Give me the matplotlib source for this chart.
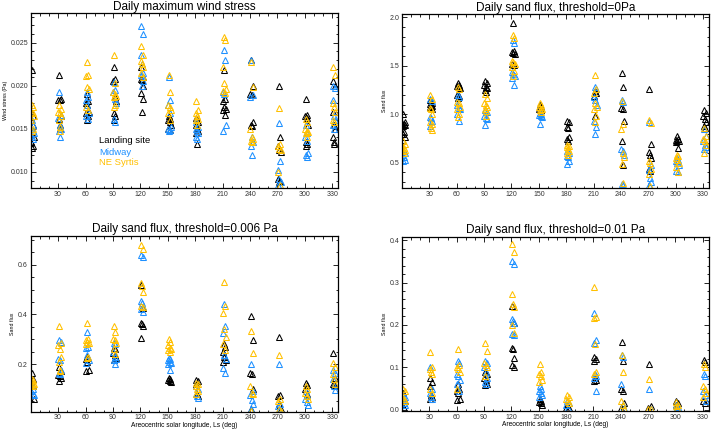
import matplotlib
matplotlib.use('Agg')
import matplotlib.pyplot as plt
from matplotlib.ticker import MultipleLocator

plt.rcParams['font.family'] = ['Liberation Sans', 'DejaVu Sans']

# Ls of each 30-degree sampling window
ls_start = [0, 30, 60, 90, 120, 150, 180, 210, 240, 270, 300, 330]
# Ls offset of each sol inside a window (deg)
sol_offsets = [1.2, 2.8, 0.4, 2.0, 3.4, 0.8, 2.4, 1.6, 3.0, 0.1]
site_names = ['Landing site', 'Midway', 'NE Syrtis']
site_colors = ['black', '#1E90FF', '#FFC000']

# Daily maximum wind stress (Pa)
stress_landing = [
    [0.0218, 0.0165, 0.016, 0.0155, 0.014, 0.0135, 0.013, 0.0128],
    [0.0212, 0.0185, 0.0184, 0.0183, 0.0165, 0.0162, 0.0155, 0.015],
    [0.019, 0.0182, 0.018, 0.0178, 0.017, 0.0168, 0.0165, 0.016],
    [0.0222, 0.0208, 0.0205, 0.0187, 0.0182, 0.0168, 0.0165, 0.016],
    [0.0222, 0.021, 0.0208, 0.0207, 0.02, 0.0192, 0.0185, 0.017],
    [0.0165, 0.0162, 0.016, 0.0158, 0.0155, 0.015, 0.0149],
    [0.0163, 0.0158, 0.0155, 0.015, 0.0147, 0.0145, 0.0133],
    [0.0218, 0.0185, 0.0182, 0.0175, 0.0173, 0.0172, 0.0166],
    [0.023, 0.02, 0.019, 0.0189, 0.0158, 0.0155, 0.0153],
    [0.02, 0.014, 0.013, 0.0125, 0.0123, 0.0092, 0.009, 0.0088],
    [0.0185, 0.0166, 0.0165, 0.0163, 0.0155, 0.0135, 0.0133, 0.013],
    [0.0205, 0.02, 0.017, 0.0155, 0.015, 0.014, 0.0135, 0.0132],
]
stress_midway = [
    [0.016, 0.0155, 0.015, 0.0148, 0.0145, 0.014, 0.0138],
    [0.0193, 0.0166, 0.0163, 0.0155, 0.015, 0.0148, 0.0141],
    [0.0193, 0.0187, 0.0183, 0.0178, 0.0168, 0.0165, 0.0162],
    [0.0204, 0.0195, 0.0193, 0.0185, 0.018, 0.0162, 0.0158],
    [0.0269, 0.026, 0.0236, 0.0225, 0.0215, 0.0213, 0.0205, 0.02],
    [0.021, 0.0183, 0.0178, 0.0168, 0.0152, 0.015, 0.0149, 0.0148],
    [0.0158, 0.0152, 0.015, 0.0148, 0.0145, 0.014, 0.0138],
    [0.0242, 0.023, 0.0193, 0.019, 0.0154, 0.0147],
    [0.023, 0.0189, 0.0187, 0.014, 0.0135, 0.013, 0.012],
    [0.0157, 0.0113, 0.0102, 0.0092, 0.0088, 0.0085],
    [0.0155, 0.0145, 0.014, 0.0136, 0.0122, 0.012, 0.0117],
    [0.02, 0.0197, 0.0183, 0.0165, 0.016, 0.0155, 0.015],
]
stress_syrtis = [
    [0.0178, 0.0175, 0.017, 0.0168, 0.0165, 0.016, 0.015, 0.0148],
    [0.0178, 0.0173, 0.017, 0.0168, 0.0165, 0.016, 0.0152, 0.0148],
    [0.0227, 0.0213, 0.0211, 0.0199, 0.0196, 0.0175, 0.0172],
    [0.0236, 0.0203, 0.0193, 0.019, 0.0188, 0.0187, 0.0178, 0.0175],
    [0.0246, 0.0236, 0.0229, 0.0225, 0.0222, 0.0215, 0.021],
    [0.0213, 0.0193, 0.0178, 0.0175, 0.0172, 0.0168, 0.016],
    [0.0182, 0.0172, 0.0168, 0.0165, 0.0162, 0.016, 0.0155],
    [0.0256, 0.0253, 0.0222, 0.0203, 0.0196, 0.0194, 0.0192],
    [0.0227, 0.0199, 0.015, 0.0141, 0.0138, 0.0136, 0.0135],
    [0.0174, 0.0133, 0.013, 0.0127, 0.0125, 0.01, 0.0085],
    [0.0162, 0.0158, 0.015, 0.0147, 0.0146, 0.0145, 0.014],
    [0.0222, 0.0212, 0.018, 0.0175, 0.017, 0.016, 0.0158],
]

# Daily sand flux, threshold = 0 Pa
flux0_landing = [
    [1.0, 0.92, 0.91, 0.9, 0.89, 0.88, 0.82, 0.8, 0.77],
    [1.15, 1.12, 1.11, 1.1, 1.09, 1.08, 1.06],
    [1.32, 1.3, 1.29, 1.28, 1.27, 1.2, 1.19, 1.17],
    [1.34, 1.32, 1.3, 1.28, 1.27, 1.25, 1.23],
    [1.94, 1.65, 1.64, 1.63, 1.62, 1.52, 1.51],
    [1.1, 1.08, 1.06, 1.04],
    [0.93, 0.92, 0.87, 0.86, 0.77, 0.75, 0.72],
    [1.24, 1.22, 1.19, 0.98],
    [1.43, 1.28, 1.07, 1.05, 0.93, 0.72, 0.48],
    [1.26, 0.69, 0.61, 0.58, 0.55, 0.44, 0.42],
    [0.78, 0.75, 0.74, 0.73, 0.72, 0.71, 0.65],
    [1.04, 1.01, 0.98, 0.95, 0.92, 0.88, 0.86],
]
flux0_midway = [
    [0.62, 0.6, 0.58, 0.56, 0.53, 0.52],
    [1.16, 1.14, 0.97, 0.96, 0.93, 0.88],
    [1.2, 1.18, 1.1, 1.07, 1.05, 1.0, 0.93],
    [1.04, 1.02, 0.98, 0.96, 0.95, 0.89],
    [1.77, 1.74, 1.44, 1.42, 1.4, 1.38, 1.3],
    [1.01, 1.0, 0.99, 0.98, 0.97, 0.9],
    [0.62, 0.6, 0.57, 0.56, 0.52, 0.49],
    [1.28, 1.26, 1.18, 1.15, 1.1, 0.93, 0.87, 0.8],
    [1.15, 1.13, 0.64, 0.62, 0.58, 0.28, 0.27],
    [0.92, 0.48, 0.43, 0.34, 0.3, 0.27],
    [0.55, 0.53, 0.52, 0.5, 0.48, 0.42, 0.4],
    [0.85, 0.78, 0.72, 0.68, 0.66, 0.64],
]
flux0_syrtis = [
    [0.72, 0.69, 0.66, 0.65, 0.63, 0.62, 0.6],
    [1.2, 1.16, 1.07, 1.06, 1.0, 0.92, 0.9, 0.86, 0.84],
    [1.28, 1.26, 1.13, 1.12, 1.08, 1.05, 1.0, 0.97],
    [1.21, 1.17, 1.12, 1.1, 1.08, 1.05, 1.03, 0.98],
    [1.82, 1.79, 1.55, 1.54, 1.52, 1.49, 1.45, 1.4],
    [1.12, 1.1, 1.08, 1.06, 1.05, 1.04, 1.02],
    [0.68, 0.67, 0.66, 0.64, 0.62, 0.6, 0.58],
    [1.41, 1.26, 1.22, 1.12, 1.08, 1.05, 0.98, 0.92],
    [1.14, 0.9, 0.85, 0.6, 0.56, 0.49, 0.29],
    [0.94, 0.91, 0.52, 0.5, 0.44, 0.38, 0.26],
    [0.58, 0.57, 0.55, 0.53, 0.5, 0.46, 0.41],
    [0.86, 0.78, 0.75, 0.72, 0.68, 0.6],
]

# Daily sand flux, threshold = 0.006 Pa
flux006_landing = [
    [0.165, 0.14, 0.13, 0.11, 0.06],
    [0.19, 0.17, 0.155, 0.15, 0.145, 0.13],
    [0.23, 0.225, 0.22, 0.21, 0.175, 0.17],
    [0.265, 0.26, 0.245, 0.235, 0.225, 0.215],
    [0.52, 0.425, 0.365, 0.36, 0.355, 0.305],
    [0.145, 0.14, 0.135, 0.13, 0.128],
    [0.135, 0.13, 0.12, 0.08, 0.07],
    [0.28, 0.27, 0.25, 0.23, 0.215, 0.21],
    [0.395, 0.295, 0.165, 0.16, 0.1, 0.02],
    [0.31, 0.075, 0.07, 0.04, 0.02],
    [0.125, 0.115, 0.1, 0.08],
    [0.245, 0.145, 0.12, 0.115, 0.11],
]
flux006_midway = [
    [0.11, 0.1, 0.09, 0.08, 0.075],
    [0.295, 0.29, 0.22, 0.215, 0.175, 0.165, 0.16],
    [0.33, 0.27, 0.265, 0.235, 0.215, 0.205],
    [0.285, 0.28, 0.25, 0.23, 0.22, 0.215, 0.2],
    [0.64, 0.63, 0.455, 0.445, 0.43, 0.42, 0.41],
    [0.225, 0.22, 0.215, 0.21, 0.205, 0.2, 0.175],
    [0.11, 0.1, 0.08, 0.07, 0.065],
    [0.44, 0.355, 0.325, 0.235, 0.22, 0.185, 0.165],
    [0.2, 0.09, 0.075, 0.055, 0.04, 0.02],
    [0.2, 0.04, 0.03, 0.015, 0.01],
    [0.09, 0.075, 0.06, 0.045, 0.035],
    [0.175, 0.165, 0.14, 0.11, 0.095],
]
flux006_syrtis = [
    [0.14, 0.135, 0.13, 0.125, 0.12, 0.115, 0.11],
    [0.355, 0.285, 0.275, 0.26, 0.23, 0.21, 0.175, 0.17],
    [0.365, 0.3, 0.295, 0.29, 0.285, 0.28, 0.23, 0.225],
    [0.355, 0.33, 0.3, 0.295, 0.285, 0.26, 0.24],
    [0.68, 0.665, 0.525, 0.515, 0.49, 0.435, 0.43],
    [0.3, 0.29, 0.275, 0.265, 0.26, 0.255, 0.25],
    [0.125, 0.12, 0.11, 0.1, 0.09, 0.08],
    [0.53, 0.435, 0.405, 0.34, 0.31, 0.28, 0.255],
    [0.335, 0.245, 0.11, 0.085, 0.08, 0.01],
    [0.235, 0.06, 0.05, 0.02, 0.01],
    [0.11, 0.1, 0.085, 0.07, 0.06],
    [0.205, 0.19, 0.16, 0.14, 0.12],
]

# Daily sand flux, threshold = 0.01 Pa
flux01_landing = [
    [0.04, 0.02, 0.01, 0.005],
    [0.075, 0.065, 0.055, 0.035, 0.03, 0.025],
    [0.06, 0.05, 0.045, 0.04, 0.025, 0.022],
    [0.09, 0.085, 0.075, 0.07, 0.06, 0.058],
    [0.245, 0.205, 0.145, 0.143, 0.122, 0.105, 0.1],
    [0.025, 0.02, 0.018, 0.015, 0.012],
    [0.01, 0.005, 0.003],
    [0.125, 0.12, 0.115, 0.075, 0.07, 0.068],
    [0.16, 0.115, 0.05, 0.045, 0.015, 0.005],
    [0.108, 0.008, 0.003],
    [0.02, 0.015, 0.01, 0.005],
    [0.118, 0.113, 0.02, 0.015],
]
flux01_midway = [
    [0.035, 0.03, 0.02, 0.015, 0.01],
    [0.1, 0.05, 0.04, 0.03, 0.025],
    [0.115, 0.11, 0.085, 0.08, 0.07, 0.06, 0.045],
    [0.115, 0.11, 0.1, 0.09, 0.075, 0.065, 0.06],
    [0.35, 0.343, 0.215, 0.21, 0.205, 0.178, 0.176],
    [0.055, 0.05, 0.045, 0.04, 0.035, 0.03],
    [0.02, 0.015, 0.01, 0.005],
    [0.227, 0.165, 0.158, 0.085, 0.08, 0.075, 0.043],
    [0.13, 0.125, 0.06, 0.01, 0.005],
    [0.048, 0.002],
    [0.01, 0.006, 0.002],
    [0.085, 0.08, 0.045, 0.035, 0.02],
]
flux01_syrtis = [
    [0.05, 0.045, 0.03, 0.025, 0.02],
    [0.135, 0.1, 0.095, 0.09, 0.085, 0.05, 0.04],
    [0.143, 0.105, 0.1, 0.097, 0.09, 0.05],
    [0.157, 0.138, 0.11, 0.105, 0.1, 0.08],
    [0.39, 0.373, 0.272, 0.25, 0.243, 0.2, 0.18],
    [0.108, 0.09, 0.085, 0.08, 0.07, 0.065],
    [0.035, 0.03, 0.025, 0.02, 0.015],
    [0.29, 0.218, 0.217, 0.155, 0.09, 0.085],
    [0.128, 0.088, 0.02, 0.01, 0.002],
    [0.072, 0.002, 0.001],
    [0.018, 0.012, 0.008, 0.004],
    [0.108, 0.1, 0.055, 0.05, 0.04, 0.03],
]


def draw_panel(ax, sites, title, ylim, ymajor, yminor, ylabel, xlabel=None, yfmt=None):
    for values, color in zip(sites, site_colors):
        xs, ys = [], []
        for ls0, cluster in zip(ls_start, values):
            for i, v in enumerate(cluster):
                xs.append(ls0 + sol_offsets[i % len(sol_offsets)])
                ys.append(v)
        ax.plot(xs, ys, linestyle='none', marker='^', markersize=3.8,
                markerfacecolor='none', markeredgecolor=color, markeredgewidth=0.75)
    ax.set_xlim(0, 336.6)
    ax.set_ylim(*ylim)
    ax.set_xticks(range(30, 331, 30))
    ax.xaxis.set_minor_locator(MultipleLocator(10))
    ax.yaxis.set_major_locator(MultipleLocator(ymajor))
    ax.yaxis.set_minor_locator(MultipleLocator(yminor))
    if yfmt:
        ax.yaxis.set_major_formatter(yfmt)
    ax.tick_params(which='both', direction='in', top=True, right=True,
                   labelsize=5, labelcolor='#333333', pad=2, width=0.6)
    ax.tick_params(which='major', length=3.5)
    ax.tick_params(which='minor', length=1.8)
    for s in ax.spines.values():
        s.set_linewidth(0.9)
    ax.set_title(title, fontsize=8.5, pad=2.5)
    ax.set_ylabel(ylabel, fontsize=3.8, labelpad=2)
    if xlabel:
        ax.set_xlabel(xlabel, fontsize=4.8, labelpad=0.5)


fig = plt.figure(figsize=(7.12, 4.30), dpi=100)
ax1 = fig.add_axes([0.0431, 0.562, 0.432, 0.407])
ax2 = fig.add_axes([0.5646, 0.5628, 0.4312, 0.4046])
ax3 = fig.add_axes([0.0431, 0.0426, 0.432, 0.4093])
ax4 = fig.add_axes([0.5646, 0.0442, 0.4308, 0.4053])

xlab = 'Areocentric solar longitude, Ls (deg)'
draw_panel(ax1, [stress_landing, stress_midway, stress_syrtis],
           'Daily maximum wind stress', (0.0081, 0.0284), 0.005, 0.001,
           'Wind stress (Pa)', yfmt='{x:.3f}')
draw_panel(ax2, [flux0_landing, flux0_midway, flux0_syrtis],
           'Daily sand flux, threshold=0Pa', (0.24, 2.035), 0.5, 0.1,
           'Sand flux', yfmt='{x:.1f}')
draw_panel(ax3, [flux006_landing, flux006_midway, flux006_syrtis],
           'Daily sand flux, threshold=0.006 Pa', (0.008, 0.717), 0.2, 0.05,
           'Sand flux', xlabel=xlab, yfmt='{x:.1f}')
draw_panel(ax4, [flux01_landing, flux01_midway, flux01_syrtis],
           'Daily sand flux, threshold=0.01 Pa', (-0.003, 0.408), 0.1, 0.02,
           'Sand flux', xlabel=xlab, yfmt='{x:.1f}')

# coloured site labels in the first panel
for name, color, yv in zip(site_names, site_colors, [0.0136, 0.0123, 0.0111]):
    ax1.text(75, yv, name, color=color, fontsize=6.8, va='center', ha='left')

fig.savefig('out.png', dpi=100)
